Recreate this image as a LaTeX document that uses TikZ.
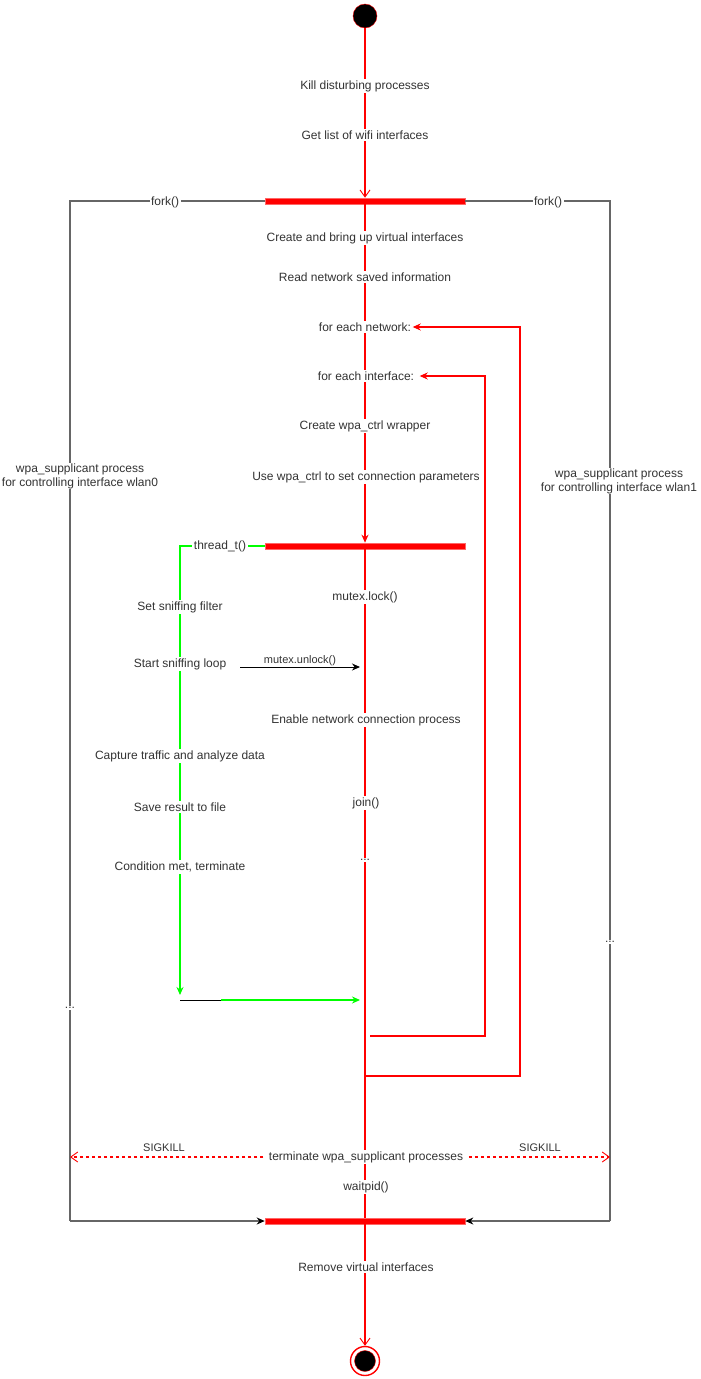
\documentclass[tikz,border=0pt]{standalone}
\usepackage{fontspec}
\setmainfont{Liberation Sans}
\usetikzlibrary{arrows.meta}
\definecolor{flowred}{HTML}{FF0000}
\definecolor{barrim}{HTML}{FF6666}
\definecolor{procgray}{HTML}{666666}
\definecolor{threadgreen}{HTML}{00FF00}
\definecolor{txtgray}{HTML}{333333}

\begin{document}
\begin{tikzpicture}[x=1pt,y=-1pt,
  lbl/.style={fill=white,text=txtgray,font=\fontsize{12}{14}\selectfont,inner sep=1.5pt,align=center},
  small/.style={text=txtgray,font=\fontsize{11}{13}\selectfont,inner sep=1pt},
  bar/.style={rectangle,fill=flowred,draw=barrim,line width=0.6pt,minimum width=200pt,minimum height=6pt,inner sep=0pt},
  flow/.style={color=flowred,line width=1.1pt},
  proc/.style={color=procgray,line width=1.5pt},
  thread/.style={color=threadgreen,line width=1.5pt},
  vee/.style={-{Straight Barb[length=7pt,width=10pt,line width=0.9pt]}},
  filltip/.style={-{Stealth[length=8pt,width=7pt]}},
  blacktip/.style={-{Stealth[length=8pt,width=7pt,color=black]}}]
  \useasboundingbox (0,0) rectangle (701,1379);
  % start, bars and end
  \node[circle,fill=black,draw=flowred,minimum size=24pt,inner sep=0pt] (start) at (365,16) {};
  \node[bar] (forkbar) at (365,201) {};
  \node[bar] (threadbar) at (365,546) {};
  \node[bar] (joinbar) at (365,1221) {};
  \node[circle,draw=flowred,line width=1.4pt,fill=white,minimum size=29pt,inner sep=0pt] (end) at (365,1361) {};
  \node[circle,fill=black,draw=flowred,minimum size=21pt,inner sep=0pt] (endcore) at (end) {};
  % child processes
  \coordinate (lt) at (70,201); \coordinate (lb) at (70,1221);
  \coordinate (rt) at (610,201); \coordinate (rb) at (610,1221);
  \draw[proc] (forkbar.west) -- (lt) -- (lb);
  \draw[proc,blacktip] (lb) -- (joinbar.west);
  \draw[proc] (forkbar.east) -- (rt) -- (rb);
  \draw[proc,blacktip] (rb) -- (joinbar.east);
  % main flow
  \draw[flow,vee] (start) -- (forkbar);
  \draw[flow,filltip] (forkbar) -- (threadbar);
  \draw[flow] (threadbar) -- (joinbar);
  \draw[flow,vee] (joinbar) -- (end);
  \node[lbl] (kill) at (365,86) {Kill disturbing processes};
  \node[lbl] (wifi) at (365,135) {Get list of wifi interfaces};
  \node[lbl] (virt) at (365,238) {Create and bring up virtual interfaces};
  \node[lbl] (read) at (365,277) {Read network saved information};
  \node[lbl] (net) at (365,327) {for each network:};
  \node[lbl] (ifc) at (366,376) {for each interface:};
  \node[lbl] (wrap) at (365,426) {Create wpa\_ctrl wrapper};
  \node[lbl] (param) at (366,477) {Use wpa\_ctrl to set connection parameters};
  \node[lbl] (lock) at (365,597) {mutex.lock()};
  \node[lbl] (enable) at (366,720) {Enable network connection process};
  \node[lbl] (join) at (366,803) {join()};
  \node[lbl] (more) at (365,860) {...};
  \node[lbl] (waitpid) at (366,1187) {waitpid()};
  \node[lbl] (remove) at (366,1267) {Remove virtual interfaces};
  % loops
  \coordinate (ifcret) at (370,1036); \coordinate (ifcturn) at (485,1036);
  \coordinate (netret) at (365,1076); \coordinate (netturn) at (520,1076);
  \draw[flow,filltip] (ifcret) -- (ifcturn) |- ([xshift=4pt]ifc.east);
  \draw[flow,filltip] (netret) -- (netturn) |- (net);
  % sniffing thread
  \coordinate (tc) at (180,546); \coordinate (tend) at (180,995);
  \draw[thread,filltip] (threadbar.west) -- (tc) -- (tend);
  \coordinate (jb) at (180,1000); \coordinate (jm) at (221,1000); \coordinate (je) at (360,1000);
  \draw[black,line width=1pt] (jb) -- (jm);
  \draw[thread,filltip] (jm) -- (je);
  \node[lbl] (tlabel) at (220,546) {thread\_t()};
  \node[lbl] (filter) at (180,607) {Set sniffing filter};
  \node[lbl] (sniff) at (180,664) {Start sniffing loop};
  \node[lbl] (capture) at (180,756) {Capture traffic and analyze data};
  \node[lbl] (save) at (180,807) {Save result to file};
  \node[lbl] (cond) at (180,867) {Condition met, terminate};
  \coordinate (us) at (240,667); \coordinate (ue) at (360,667);
  \draw[black,line width=1pt,filltip] (us) -- (ue) node[midway,above,small] (unlock) {mutex.unlock()};
  % process labels
  \node[lbl] (lfork) at (165,202) {fork()};
  \node[lbl] (rfork) at (548,202) {fork()};
  \node[lbl,inner sep=0.5pt] (lproc) at (80,476) {wpa\_supplicant process\\for controlling interface wlan0};
  \node[lbl,inner sep=0.5pt] (rproc) at (619,481) {wpa\_supplicant process\\for controlling interface wlan1};
  \node[lbl] (ldots) at (70,1008) {...};
  \node[lbl] (rdots) at (610,942) {...};
  % termination
  \node[lbl] (term) at (366,1157) {terminate wpa\_supplicant processes};
  \coordinate (kl) at (70,1157); \coordinate (kr) at (610,1157);
  \draw[flow,dash pattern=on 3pt off 3pt,vee,shorten <=4pt] (term) -- (kl);
  \draw[flow,dash pattern=on 3pt off 3pt,vee,shorten <=4pt] (term) -- (kr);
  \node[small] (killl) at (164,1148) {SIGKILL};
  \node[small] (killr) at (540,1148) {SIGKILL};
\end{tikzpicture}
\end{document}
